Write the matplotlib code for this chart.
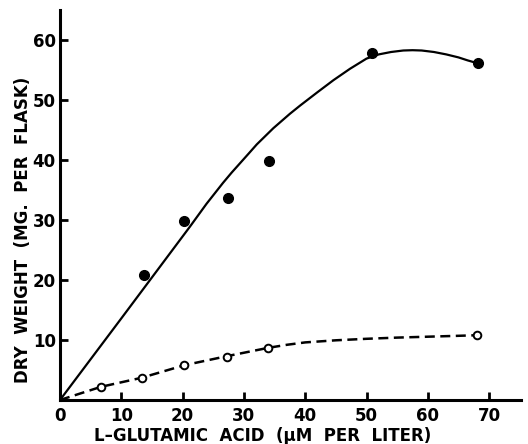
import matplotlib
matplotlib.use("Agg")
import matplotlib.pyplot as plt

# measured points
filled_x = [13.7, 20.2, 27.4, 34.1, 50.9, 68.2]
filled_y = [20.8, 29.9, 33.7, 39.9, 57.9, 56.1]
open_x = [6.7, 13.3, 20.3, 27.2, 34.0, 68.1]
open_y = [2.2, 3.6, 5.8, 7.2, 8.6, 10.8]

# drawn curves
solid_x = [0, 10, 21.2, 23.9, 26.6, 28.0, 29.4, 30.8, 32.1, 34.8, 37.5, 39.2, 42.0, 44.6, 47.3,
           50.0, 52.0, 54.0, 56.0, 57.5, 59.0, 61.0, 63.0, 65.0, 66.5, 68.2]
solid_y = [0, 13.6, 28.9, 32.7, 36.2, 37.9, 39.5, 41.1, 42.6, 45.3, 47.7, 49.1, 51.3, 53.3, 55.2,
           56.9, 57.6, 58.0, 58.25, 58.3, 58.25, 58.0, 57.6, 57.1, 56.6, 56.1]
dash_x = [0, 6.7, 13.3, 20.3, 27.2, 34.0, 37, 40, 45, 50, 55, 60, 65, 68.1]
dash_y = [0, 2.2, 3.7, 5.8, 7.3, 8.7, 9.2, 9.6, 9.95, 10.2, 10.4, 10.55, 10.7, 10.8]

xticks = [0, 10, 20, 30, 40, 50, 60, 70]
yticks = [10, 20, 30, 40, 50, 60]

fig = plt.figure(figsize=(5.28, 4.44), dpi=100)
ax = fig.add_axes([60/528, 44/444, 461/528, 390/444])

ax.plot(solid_x, solid_y, color="black", lw=1.6, solid_capstyle="round",
        solid_joinstyle="round")
ax.plot(dash_x, dash_y, color="black", lw=1.8, dashes=(4, 2.2))
ax.plot(filled_x, filled_y, "o", color="black", ms=7, zorder=3)
ax.plot(open_x, open_y, "o", mfc="white", mec="black", mew=1.4, ms=5.5, zorder=3)

ax.set_xlim(0, 75.2)
ax.set_ylim(0, 65)
for s in ["top", "right"]:
    ax.spines[s].set_visible(False)
for s in ["left", "bottom"]:
    ax.spines[s].set_linewidth(2.2)

ax.set_xticks(xticks)
ax.set_yticks(yticks)
ax.set_xticklabels([str(t) for t in xticks], fontsize=12, fontweight="bold")
ax.set_yticklabels([str(t) for t in yticks], fontsize=12, fontweight="bold")
ax.tick_params(axis="both", direction="in", length=6, width=2, pad=3)
ax.tick_params(axis="x", pad=5)

ax.set_xlabel("L–GLUTAMIC  ACID  (μM  PER  LITER)", fontsize=12, fontweight="bold")
ax.set_ylabel("DRY  WEIGHT  (MG.  PER  FLASK)", fontsize=12, fontweight="bold")
ax.xaxis.set_label_coords(0.44, -0.07)
ax.yaxis.set_label_coords(-0.061, 0.436)

fig.savefig("out.png", dpi=100)
